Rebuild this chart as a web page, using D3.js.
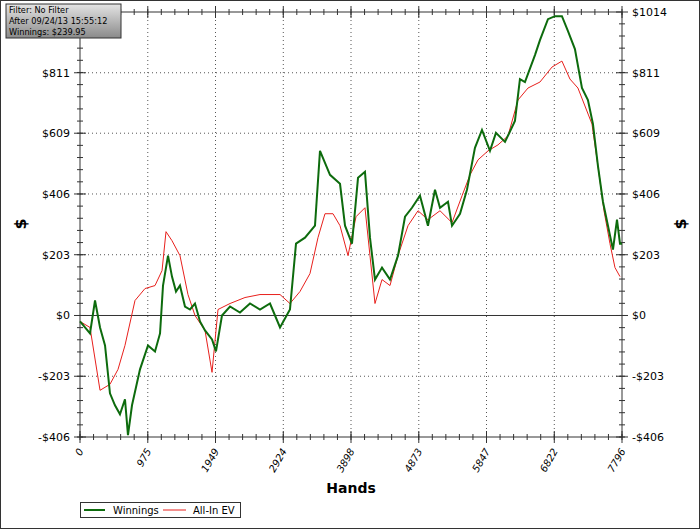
<!DOCTYPE html><html><head><script src="https://cdn.jsdelivr.net/npm/d3@7"></script>
<style>body{margin:0;background:#fff}text{font-family:"DejaVu Sans",sans-serif}</style></head><body>
<svg id="c" width="700" height="529"></svg>
<script>
const yTicks=[-406,-203,0,203,406,609,811,1014];
const xTicks=[0,975,1949,2924,3898,4873,5847,6822,7796];
const winHands=[0,72,144,216,288,360,431,503,575,647,690,748,863,978,1079,1151,1194,1266,1323,1381,1438,1510,1582,1654,1726,1798,1899,1956,2042,2158,2301,2445,2589,2733,2877,3020,3107,3236,3380,3452,3596,3740,3812,3912,3999,4099,4171,4243,4344,4459,4574,4675,4775,4890,5005,5106,5178,5293,5351,5466,5566,5681,5782,5897,5983,6113,6256,6328,6400,6544,6616,6731,6832,6932,7019,7119,7220,7306,7378,7450,7522,7594,7666,7724,7767,7796];
const winVals=[-20,-40,-60,50,-40,-100,-260,-300,-330,-280,-400,-300,-180,-100,-120,-60,100,200,130,80,100,30,20,40,-20,-50,-80,-120,0,30,10,40,20,40,-40,20,240,260,300,550,470,440,300,240,460,480,260,120,160,120,200,330,360,400,300,420,360,380,300,340,420,560,620,550,610,580,650,790,780,870,920,990,1000,1000,950,890,760,720,640,500,380,300,220,320,240,240];
const evHands=[0,144,288,431,547,647,791,935,1079,1180,1237,1323,1438,1553,1654,1798,1899,1985,2158,2373,2589,2877,3020,3164,3308,3423,3524,3639,3740,3855,3970,4099,4171,4243,4344,4459,4574,4718,4862,5005,5178,5351,5495,5610,5725,5869,6012,6156,6300,6444,6616,6789,6932,7047,7162,7263,7364,7450,7537,7623,7695,7767];
const evVals=[-20,-40,-250,-230,-180,-100,50,90,100,150,280,250,200,70,0,-50,-190,20,40,60,70,70,40,80,140,260,340,340,300,200,330,360,200,40,120,100,200,300,350,320,350,310,400,470,520,550,570,600,720,760,780,830,850,790,760,700,640,500,350,240,160,130];
const svg=d3.select("#c");
const L=80,R=622,T=12,B=437;
const x=d3.scaleLinear().domain([0,7796]).range([L,R]);
const y=d3.scaleLinear().domain([-406,1014]).range([B,T]);
svg.append("rect").attr("x",0.5).attr("y",0.5).attr("width",699).attr("height",528).attr("fill","none").attr("stroke","#333");
svg.append("g").selectAll("line").data(xTicks.slice(1,-1)).join("line").attr("x1",d=>x(d)).attr("x2",d=>x(d)).attr("y1",T).attr("y2",B).attr("stroke","#555").attr("stroke-dasharray","1,3");
svg.append("g").selectAll("line").data(yTicks.slice(1,-1).filter(d=>d!==0)).join("line").attr("x1",L).attr("x2",R).attr("y1",d=>y(d)).attr("y2",d=>y(d)).attr("stroke","#555").attr("stroke-dasharray","1,3");
svg.append("line").attr("x1",L).attr("x2",R).attr("y1",y(0)).attr("y2",y(0)).attr("stroke","#333");
svg.append("rect").attr("x",L).attr("y",T).attr("width",R-L).attr("height",B-T).attr("fill","none").attr("stroke","#333");
const yMinor=d3.range(-406,1014.1,203/5), xMinor=d3.range(0,7796.1,7796/40);
const tk=svg.append("g").attr("stroke","#333");
yMinor.forEach(v=>{[L,R].forEach(px=>tk.append("line").attr("x1",px-3).attr("x2",px+3).attr("y1",y(v)).attr("y2",y(v)));});
yTicks.forEach(v=>{[L,R].forEach(px=>tk.append("line").attr("x1",px-6).attr("x2",px+6).attr("y1",y(v)).attr("y2",y(v)));});
xMinor.forEach(v=>{[T,B].forEach(py=>tk.append("line").attr("x1",x(v)).attr("x2",x(v)).attr("y1",py-3).attr("y2",py+3));});
xTicks.forEach(v=>{[T,B].forEach(py=>tk.append("line").attr("x1",x(v)).attr("x2",x(v)).attr("y1",py-6).attr("y2",py+6));});
const fmt=v=>(v<0?"-$":"$")+Math.abs(v);
// left top label is hidden by the info box in the reference
svg.append("g").selectAll("text").data(yTicks.slice(0,-1)).join("text").attr("x",L-10).attr("y",d=>y(d)+4).attr("text-anchor","end").attr("font-size",11).text(fmt);
svg.append("g").selectAll("text").data(yTicks).join("text").attr("x",R+10).attr("y",d=>y(d)+4).attr("font-size",11).text(fmt);
svg.append("g").selectAll("text").data(xTicks).join("text").attr("transform",d=>`translate(${x(d)+4},${B+14}) rotate(-60)`).attr("text-anchor","end").attr("font-size",10).attr("font-style","italic").text(d=>d);
svg.append("path").datum(evHands.map((h,i)=>[h,evVals[i]])).attr("d",d3.line().x(d=>x(d[0])).y(d=>y(d[1]))).attr("fill","none").attr("stroke","#e8201c").attr("stroke-width",1);
svg.append("path").datum(winHands.map((h,i)=>[h,winVals[i]])).attr("d",d3.line().x(d=>x(d[0])).y(d=>y(d[1]))).attr("fill","none").attr("stroke","#0d6b0d").attr("stroke-width",2);
svg.append("text").attr("transform","translate(26,224) rotate(-90)").attr("text-anchor","middle").attr("font-size",16).attr("font-weight","bold").text("$");
svg.append("text").attr("transform","translate(686,224) rotate(-90)").attr("text-anchor","middle").attr("font-size",16).attr("font-weight","bold").text("$");
svg.append("text").attr("x",351).attr("y",493).attr("text-anchor","middle").attr("font-size",14).attr("font-weight","bold").text("Hands");
const gr=svg.append("defs").append("linearGradient").attr("id","g").attr("x1",0).attr("x2",0).attr("y1",0).attr("y2",1);
gr.append("stop").attr("offset",0).attr("stop-color","#e4e4e4");gr.append("stop").attr("offset",1).attr("stop-color","#8a8a8a");
svg.append("rect").attr("x",6).attr("y",4).attr("width",115).attr("height",34).attr("fill","url(#g)").attr("stroke","#333");
["Filter: No Filter","After 09/24/13 15:55:12","Winnings: $239.95"].forEach((t,i)=>svg.append("text").attr("x",9).attr("y",13+i*10.8).attr("font-size",8.2).text(t));
svg.append("rect").attr("x",80.5).attr("y",502.5).attr("width",160).attr("height",15).attr("fill","#fff").attr("stroke","#333");
svg.append("line").attr("x1",84).attr("x2",105).attr("y1",510).attr("y2",510).attr("stroke","#0d6b0d").attr("stroke-width",2);
svg.append("text").attr("x",113).attr("y",514).attr("font-size",10).text("Winnings");
svg.append("line").attr("x1",163).attr("x2",186).attr("y1",510).attr("y2",510).attr("stroke","#e8201c");
svg.append("text").attr("x",193).attr("y",514).attr("font-size",10).text("All-In EV");
</script></body></html>
